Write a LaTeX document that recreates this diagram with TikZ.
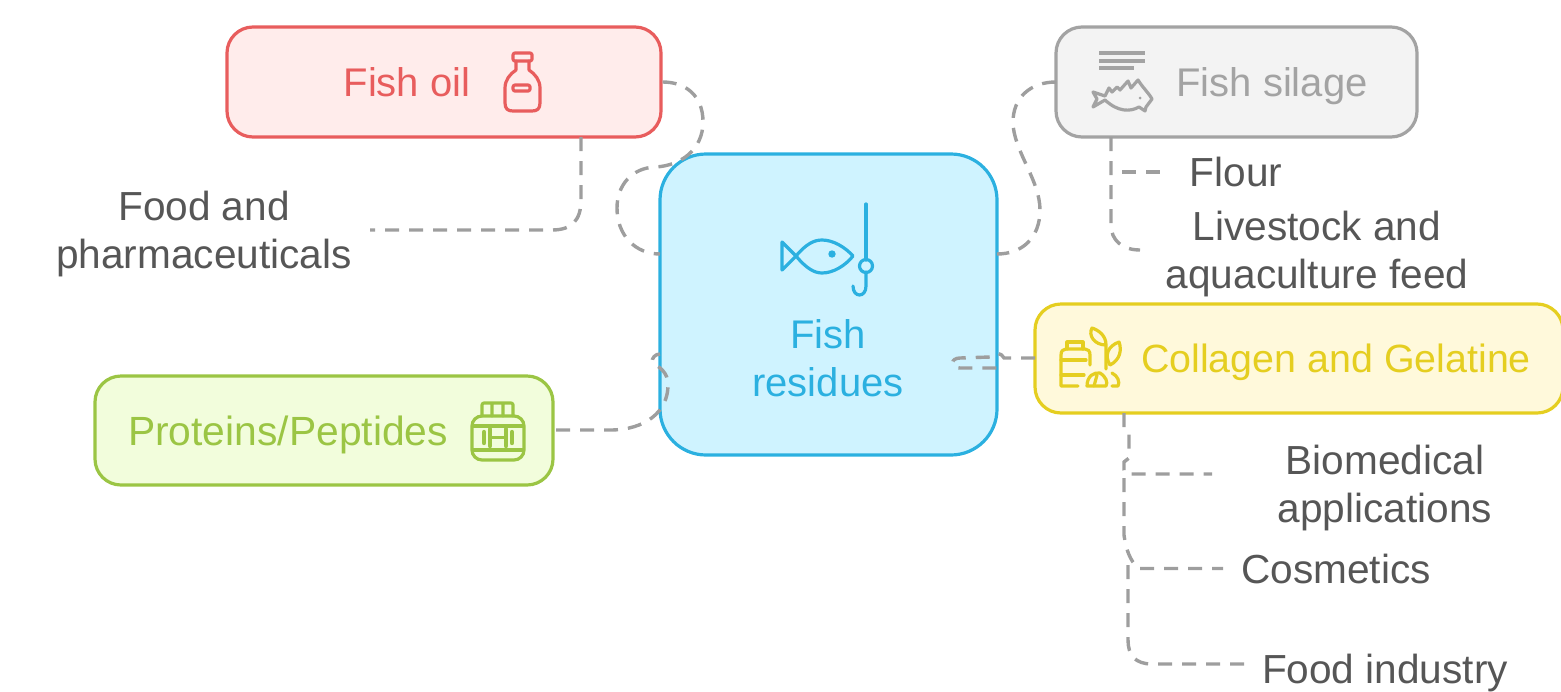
\documentclass[tikz,border=0pt]{standalone}
\usepackage{fontspec}
\setmainfont{Liberation Sans}
\definecolor{redc}{HTML}{E85D5D}\definecolor{redf}{HTML}{FFECEB}
\definecolor{grayc}{HTML}{A3A3A3}\definecolor{grayf}{HTML}{F3F3F3}
\definecolor{bluec}{HTML}{2BB0E0}\definecolor{bluef}{HTML}{CFF3FF}
\definecolor{yelc}{HTML}{E5CE20}\definecolor{yelf}{HTML}{FFF9DB}
\definecolor{grnc}{HTML}{9BC544}\definecolor{grnf}{HTML}{F2FDDC}
\definecolor{txt}{HTML}{565656}\definecolor{conn}{HTML}{9E9E9E}
\tikzset{
 box/.style={draw=#1,line width=1.6pt,rounded corners=13pt,inner sep=0pt,text=#1},
 lab/.style={text=txt,align=center,inner sep=0pt,font=\fontsize{20.3}{24}\selectfont},
 big/.style={align=center,inner sep=0pt,font=\fontsize{20}{24}\selectfont},
 link/.style={draw=conn,line width=1.7pt,dash pattern=on 7pt off 5pt},
 icon/.style={draw=#1,line width=1.6pt,line join=round,line cap=round},
}
\begin{document}
\begin{tikzpicture}[x=0.5pt,y=-0.5pt]
\useasboundingbox (0,0) rectangle (1561,691);
% boxes
\node[box=redc,fill=redf,minimum width=217pt,minimum height=55pt] (oil) at (444,82) {};
\node[box=grayc,fill=grayf,minimum width=180.5pt,minimum height=55pt] (silage) at (1236.5,82) {};
\node[box=bluec,fill=bluef,rounded corners=23pt,minimum width=168.5pt,minimum height=150.5pt] (res) at (828.5,304.5) {};
\node[box=yelc,fill=yelf,minimum width=264pt,minimum height=54.5pt] (coll) at (1299,358.5) {};
\node[box=grnc,fill=grnf,minimum width=229pt,minimum height=54.5pt] (prot) at (324,430.5) {};
% texts
\node[big,text=redc] (toil) at (407,82) {Fish oil};
\node[big,text=grayc] (tsil) at (1272,86) {Fish silage};
\node[big,text=bluec] (tres) at (828,358) {Fish\\residues};
\node[big,text=yelc,font=\fontsize{19.7}{24}\selectfont] (tcol) at (1336,362) {Collagen and Gelatine};
\node[big,text=grnc,font=\fontsize{20.4}{24}\selectfont] (tpro) at (288,435) {Proteins/Peptides};
\node[lab] (food) at (204,234) {Food and\\pharmaceuticals};
\node[lab] (flour) at (1236,172) {Flour};
\node[lab] (live) at (1317,254) {Livestock and\\aquaculture feed};
\node[lab] (bio) at (1385,488) {Biomedical\\applications};
\node[lab] (cos) at (1336,569) {Cosmetics};
\node[lab] (find) at (1385,673) {Food industry};
% ports
\coordinate (oilS) at (581,137);
\coordinate (foodE) at (370,230);
\coordinate (resNW) at (660,254);
\coordinate (resNE) at (997,254);
\coordinate (silW) at (1056,82);
\coordinate (silS) at (1111,137);
\coordinate (flourW) at (1160,172);
\coordinate (flourJ) at (1122,172);
\coordinate (liveW) at (1140,250);
\coordinate (collW) at (1035,358);
\coordinate (resE) at (998,368);
\coordinate (protE) at (556,430);
\coordinate (collS) at (1124,413);
\coordinate (bioW) at (1212,474);
\coordinate (cosW) at (1223,568.5);
\coordinate (findW) at (1247,664);
\coordinate (resW) at (660,354);
% connectors
\draw[link] (oil.east) .. controls (685,82) and (703,95) .. (703,122) .. controls (703,150) and (680,166) .. (655,167) .. controls (632,168) and (617,185) .. (617,208) .. controls (617,235) and (635,254) .. (resNW);
\draw[link] (oilS) -- (581,200) .. controls (581,220) and (572,230) .. (552,230) -- (foodE);
\draw[link] (silW) .. controls (1030,82) and (1013,98) .. (1013,122) .. controls (1013,150) and (1040,180) .. (1040,210) .. controls (1040,238) and (1022,254) .. (resNE);
\draw[link] (silS) -- (1111,225) .. controls (1111,240) and (1122,250) .. (liveW);
\draw[link] (flourJ) -- (flourW);
\draw[link] (collW) -- (1004,358) .. controls (1000,352) and (996,352) .. (990,357) -- (960,358) .. controls (950,358) and (950,368) .. (960,368) -- (resE);
\draw[link] (protE) -- (610,430) .. controls (645,430) and (668,412) .. (668,385) .. controls (668,372) and (660,368) .. (652,362) .. controls (652,358) and (655,354) .. (resW);
\draw[link] (collS) -- (1124,428) -- (1129,432) -- (1129,458) -- (1124,462) -- (1124,470) .. controls (1124,473) and (1125,474) .. (1128,474) -- (bioW);
\draw[link] (1124,478) -- (1124,535) .. controls (1126,550) and (1130,560) .. (1138,568.5) -- (cosW);
\draw[link] (1128,565) -- (1128,640) .. controls (1128,655) and (1135,664) .. (1152,664) -- (findW);
% bottle icon
\draw[icon=redc,rounded corners=1pt] (513,53) rectangle (532,61);
\draw[icon=redc] (516,61) -- (516,70) .. controls (510,74) and (505,80) .. (505,88) -- (505,103) .. controls (505,109) and (508,111) .. (513,111) -- (532,111) .. controls (537,111) and (540,109) .. (540,103) -- (540,88) .. controls (540,80) and (535,74) .. (529,70) -- (529,61);
\draw[icon=redc,rounded corners=1pt] (513,85) rectangle (530,91);
% fish + hook
\draw[icon=bluec] (866,204) -- (866,260);
\draw[icon=bluec] (866,266) circle (6.5);
\draw[icon=bluec] (866,272) -- (866,286) .. controls (866,298) and (853,298) .. (853,286);
\draw[icon=bluec] (796,256) .. controls (806,244) and (814,240) .. (822,240) .. controls (833,240) and (845,247) .. (853,256) .. controls (845,266) and (833,273) .. (822,273) .. controls (814,273) and (806,268) .. (796,256) -- (782,242) -- (782,270) -- cycle;
\fill[bluec] (832,254) circle (3.7);
% silage icon
\draw[icon=grayc,line cap=butt] (1099,53) -- (1145,53) (1099,61) -- (1145,61) (1099,68) -- (1134,68);
\draw[icon=grayc] (1093,92) -- (1105,96) -- (1109,88) -- (1112,92) -- (1117,87) -- (1120,90) -- (1128,81) -- (1131,88) -- (1138,80) .. controls (1143,88) and (1148,92) .. (1152,99) -- (1146,107) -- (1145,111) -- (1139,107) .. controls (1130,112) and (1118,112) .. (1105,100) -- (1093,107) -- (1097,99) -- cycle;
\fill[grayc] (1140,98) circle (1.5);
% collagen icon
\draw[icon=yelc] (1067,349) -- (1067,342) -- (1083,342) -- (1083,349);
\draw[icon=yelc] (1090,365) -- (1090,355) .. controls (1090,351) and (1088,349) .. (1085,349) -- (1066,349) .. controls (1063,349) and (1061,351) .. (1061,355) -- (1061,386) -- (1078,386);
\draw[icon=yelc] (1061,360) -- (1086,360) (1061,375) -- (1084,375);
\draw[icon=yelc] (1106,369) -- (1106,345) .. controls (1094,345) and (1088,335) .. (1092,328) .. controls (1098,330) and (1106,335) .. (1106,345);
\draw[icon=yelc] (1110,365) .. controls (1104,355) and (1108,346) .. (1119,342) .. controls (1122,350) and (1120,360) .. (1110,365);
\draw[icon=yelc] (1087,386) .. controls (1087,376) and (1094,372) .. (1100,373) .. controls (1106,377) and (1108,382) .. (1106,386) -- cycle;
\draw[icon=yelc] (1097,375) -- (1094,386);
\draw[icon=yelc] (1112,373) .. controls (1118,376) and (1120,382) .. (1118,386) -- (1112,386);
% protein icon
\draw[icon=grnc,rounded corners=1pt] (482,416) -- (482,403) -- (513,403) -- (513,416) (492,403) -- (492,416) (503,403) -- (503,416);
\draw[icon=grnc,rounded corners=5pt] (472,416) rectangle (524,460);
\draw[icon=grnc] (473,426) -- (523,426) (473,450) -- (523,450);
\draw[icon=grnc,line width=2.2pt] (484,432) -- (484,443) (490,429) -- (490,446) (506,429) -- (506,446) (512,432) -- (512,443);
\draw[icon=grnc] (490,437.5) -- (506,437.5);
\end{tikzpicture}
\end{document}
